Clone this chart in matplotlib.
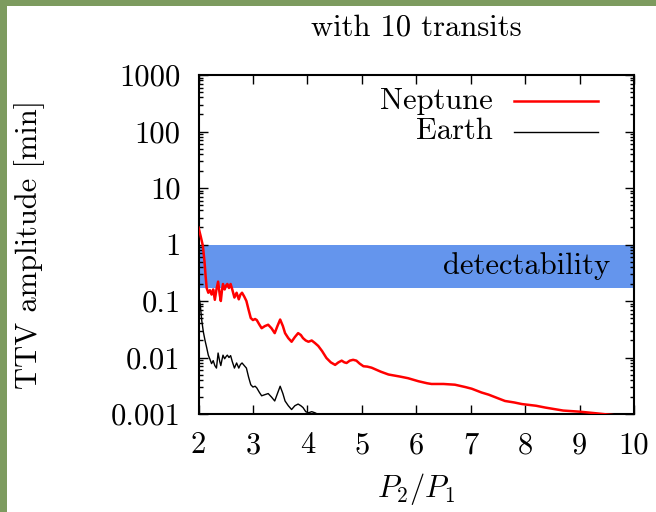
import numpy as np
import matplotlib
matplotlib.use('Agg')
import matplotlib.pyplot as plt
from matplotlib.patches import Rectangle

plt.rcParams['font.family'] = 'serif'
plt.rcParams['font.serif'] = ['cmr10']
plt.rcParams['mathtext.fontset'] = 'cm'
plt.rcParams['axes.formatter.use_mathtext'] = True

# TTV amplitude vs period ratio
p_nep = [2.00, 2.04, 2.08, 2.11, 2.13, 2.15, 2.18, 2.21, 2.24, 2.27, 2.30, 2.33, 2.36, 2.39,
         2.41, 2.43, 2.45, 2.48, 2.51, 2.53, 2.56, 2.59, 2.62, 2.66, 2.70, 2.74, 2.77, 2.80,
         2.84, 2.88, 2.92, 2.96, 3.00, 3.04, 3.07, 3.12, 3.16, 3.22, 3.28, 3.34, 3.40, 3.45,
         3.50, 3.55, 3.59, 3.65, 3.71, 3.77, 3.83, 3.88, 3.92, 3.97, 4.02, 4.08, 4.14, 4.20,
         4.27, 4.35, 4.43, 4.51, 4.57, 4.63, 4.68, 4.72, 4.78, 4.84, 4.90, 4.96, 5.03, 5.10,
         5.18, 5.35, 5.49, 5.70, 5.85, 6.04, 6.20, 6.28, 6.50, 6.71, 6.90, 7.02, 7.20, 7.33,
         7.50, 7.63, 7.80, 7.94, 8.20, 8.37, 8.70, 9.00, 9.30, 9.60, 9.80]
ttv_nep = [2.0, 1.4, 0.95, 0.5, 0.28, 0.17, 0.14, 0.155, 0.13, 0.16, 0.105, 0.16, 0.22, 0.13,
           0.10, 0.15, 0.20, 0.16, 0.19, 0.20, 0.17, 0.20, 0.16, 0.115, 0.14, 0.107, 0.13, 0.14,
           0.12, 0.10, 0.07, 0.05, 0.046, 0.048, 0.046, 0.038, 0.033, 0.036, 0.038, 0.033, 0.027, 0.036,
           0.047, 0.036, 0.027, 0.022, 0.019, 0.023, 0.027, 0.025, 0.022, 0.020, 0.019, 0.020, 0.018, 0.016,
           0.013, 0.0098, 0.0082, 0.0074, 0.0082, 0.0088, 0.0082, 0.0080, 0.0088, 0.0091, 0.0088, 0.0078, 0.0070, 0.0069,
           0.0066, 0.0056, 0.0050, 0.0046, 0.0043, 0.0038, 0.0035, 0.0034, 0.0034, 0.0033, 0.0030, 0.0028, 0.0024, 0.0022,
           0.0019, 0.0017, 0.0016, 0.0015, 0.0014, 0.0013, 0.00115, 0.0011, 0.00103, 0.00096, 0.0009]

p_earth = [2.00, 2.03, 2.06, 2.09, 2.12, 2.15, 2.18, 2.21, 2.24, 2.27, 2.30, 2.33, 2.36, 2.39,
           2.41, 2.43, 2.45, 2.48, 2.51, 2.53, 2.56, 2.59, 2.62, 2.66, 2.70, 2.74, 2.77, 2.80,
           2.84, 2.88, 2.92, 2.96, 3.00, 3.04, 3.07, 3.12, 3.16, 3.22, 3.28, 3.34, 3.40, 3.45,
           3.50, 3.55, 3.59, 3.65, 3.71, 3.77, 3.83, 3.88, 3.92, 3.97, 4.02, 4.08, 4.14, 4.20, 4.25]
ttv_earth = [0.13, 0.09, 0.045, 0.028, 0.02, 0.015, 0.011, 0.0093, 0.0078, 0.0088, 0.0072, 0.0065, 0.012, 0.0085,
             0.0072, 0.009, 0.011, 0.0095, 0.0105, 0.011, 0.010, 0.0108, 0.0085, 0.0065, 0.008, 0.0065, 0.0075, 0.008,
             0.0072, 0.0065, 0.0045, 0.0033, 0.003, 0.0031, 0.0029, 0.0024, 0.0021, 0.0022, 0.0023, 0.002, 0.0017, 0.0023,
             0.0031, 0.0023, 0.0017, 0.0014, 0.0012, 0.0014, 0.0015, 0.0014, 0.0013, 0.0011, 0.00105, 0.0011, 0.00105, 0.00098, 0.0009]

det_lo, det_hi = 0.167, 1.0
xticks = [2, 3, 4, 5, 6, 7, 8, 9, 10]
yticks = [0.001, 0.01, 0.1, 1, 10, 100, 1000]
ylabels = ['0.001', '0.01', '0.1', '1', '10', '100', '1000']

fig = plt.figure(figsize=(6.56, 5.12), dpi=100)
# green frame on the left and top
fig.patches.append(Rectangle((0, 0), 7 / 656, 1, transform=fig.transFigure,
                             facecolor='#7d9b5f', edgecolor='none', zorder=0))
fig.patches.append(Rectangle((0, 1 - 6 / 512), 1, 6 / 512, transform=fig.transFigure,
                             facecolor='#7d9b5f', edgecolor='none', zorder=0))

ax = fig.add_axes([198.5 / 656, 1 - 414 / 512, 435.5 / 656, 339 / 512])
ax.axhspan(det_lo, det_hi, color='#6495ed', lw=0, zorder=1)
ax.plot(p_nep, ttv_nep, color='#ff0000', lw=1.8, zorder=3)
ax.plot(p_earth, ttv_earth, color='black', lw=1.0, zorder=3)

ax.set_yscale('log')
ax.set_xlim(2, 10)
ax.set_ylim(0.001, 1000)
ax.set_xticks(xticks)
ax.set_xticklabels([str(t) for t in xticks])
ax.set_yticks(yticks)
ax.set_yticklabels(ylabels)
ax.tick_params(which='both', direction='in', top=True, right=True, labelsize=22, width=1.0)
ax.tick_params(which='major', length=6.5)
ax.tick_params(which='minor', length=3.2)
ax.tick_params(axis='x', pad=13)
ax.tick_params(axis='y', pad=13)
ax.minorticks_off()
ax.yaxis.set_minor_locator(matplotlib.ticker.LogLocator(base=10, subs=np.arange(2, 10)))
ax.yaxis.set_minor_formatter(matplotlib.ticker.NullFormatter())
for s in ax.spines.values():
    s.set_linewidth(1.5)

ax.set_title('with 10 transits', fontsize=22, pad=28.5)
ax.set_xlabel('$P_2/P_1$', fontsize=22, labelpad=8)
ax.set_ylabel('TTV amplitude [min]', fontsize=22, labelpad=47)

# legend drawn by hand, labels to the left of the line samples
ax.plot([0.7245, 0.917], [0.923, 0.923], color='#ff0000', lw=1.8, transform=ax.transAxes)
ax.plot([0.7245, 0.917], [0.833, 0.833], color='black', lw=1.0, transform=ax.transAxes)
ax.text(0.676, 0.923, 'Neptune', fontsize=22, ha='right', va='center', transform=ax.transAxes)
ax.text(0.676, 0.833, 'Earth', fontsize=22, ha='right', va='center', transform=ax.transAxes)

ax.text(9.56, 0.41, 'detectability', fontsize=22, ha='right', va='center', zorder=4)

fig.savefig('out.png', dpi=100)
